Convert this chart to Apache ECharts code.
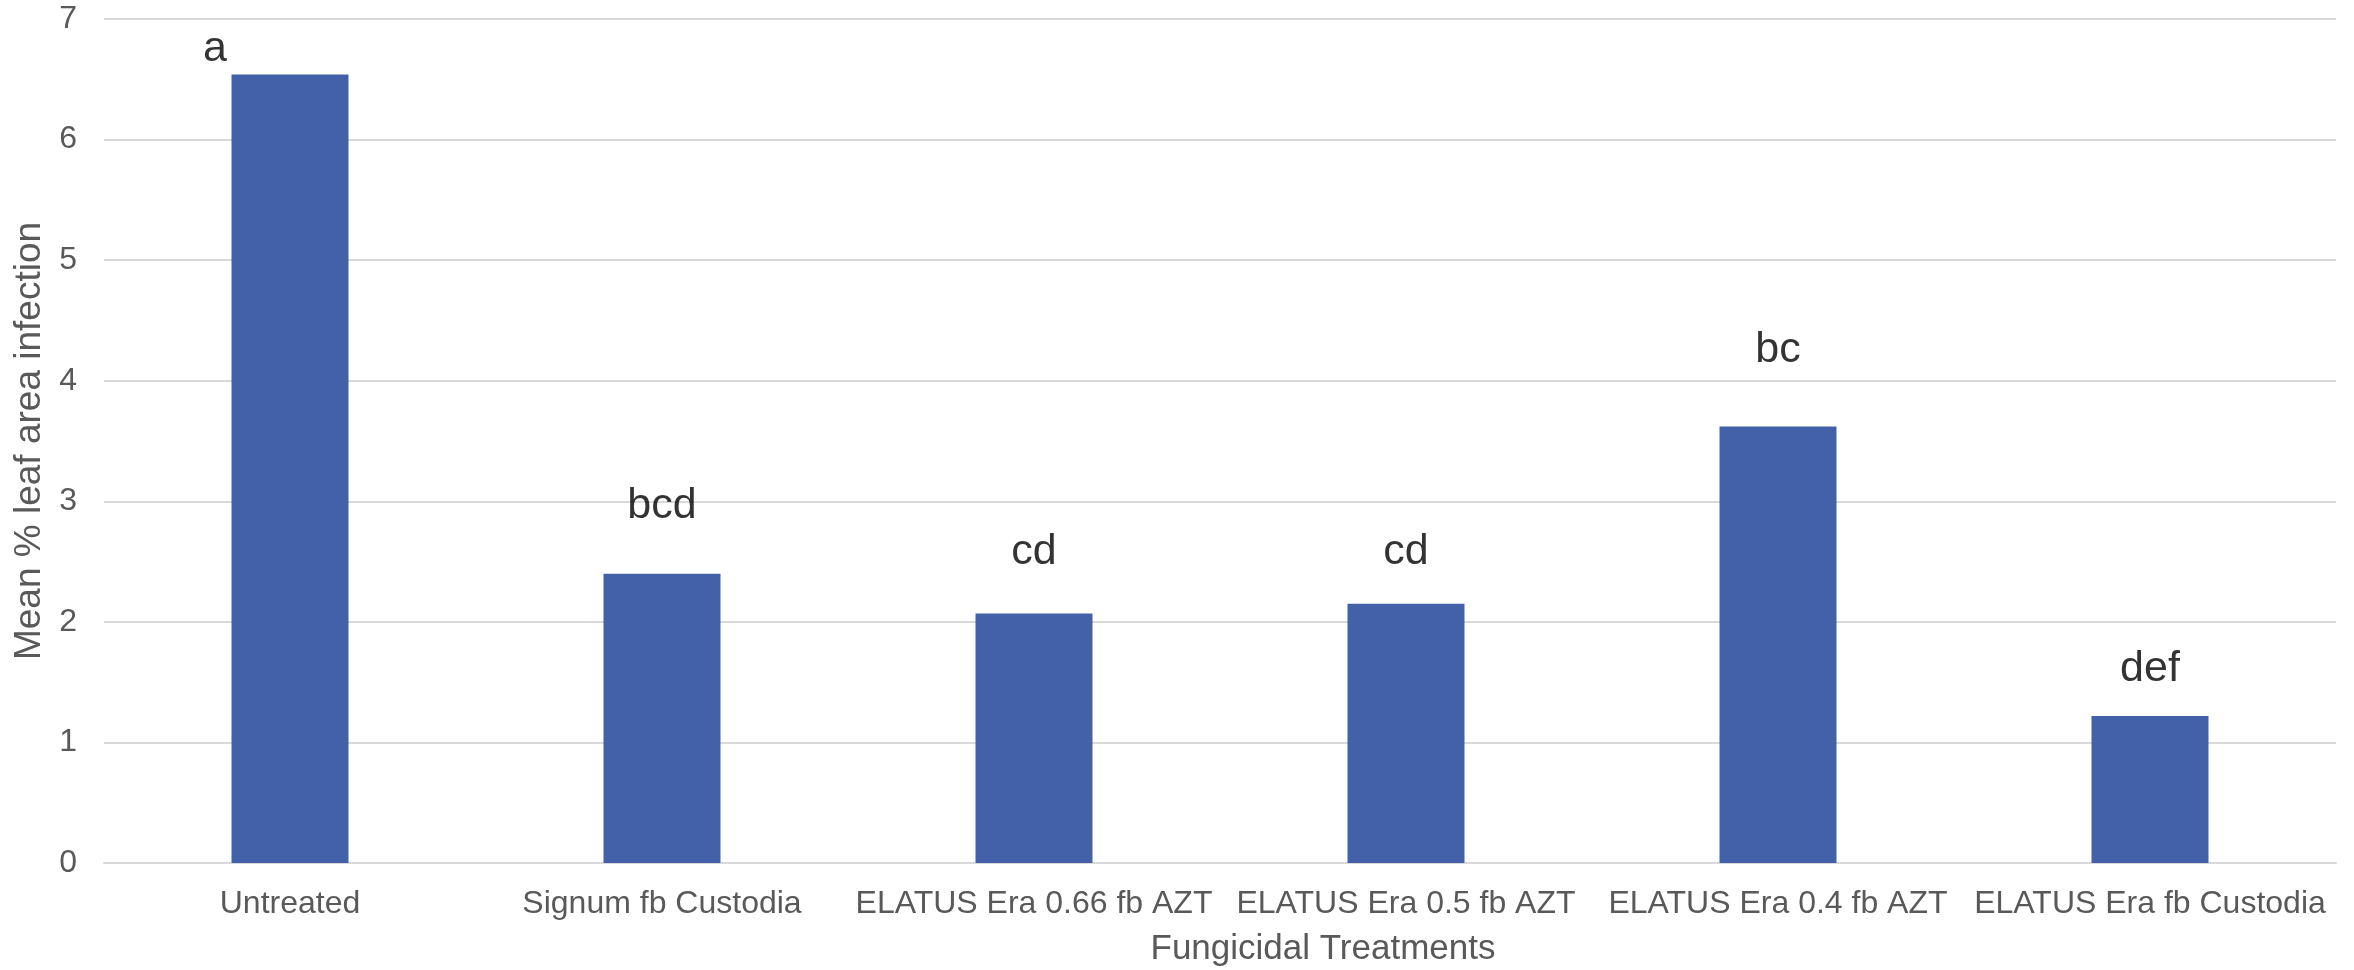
<!DOCTYPE html>
<html>
<head>
<meta charset="utf-8">
<script src="https://cdn.jsdelivr.net/npm/echarts@6/dist/echarts.min.js"></script>
<style>
html,body{margin:0;padding:0;background:#fff;}
#c{width:2354px;height:970px;}
</style>
</head>
<body>
<div id="c"></div>
<script>
const categories = ["Untreated", "Signum fb Custodia", "ELATUS Era 0.66 fb AZT", "ELATUS Era 0.5 fb AZT", "ELATUS Era 0.4 fb AZT", "ELATUS Era fb Custodia"];
const meanInfection = [6.54, 2.40, 2.07, 2.15, 3.62, 1.22];
const letters = ["a", "bcd", "cd", "cd", "bc", "def"];
const letterHeights = [6.75, 2.96, 2.58, 2.58, 4.25, 1.61];
const yTicks = [0, 1, 2, 3, 4, 5, 6, 7];

const FONT = "'Liberation Sans', Arial, sans-serif";
const chart = echarts.init(document.getElementById('c'), null, {renderer: 'canvas'});

const letterData = letterHeights.map((v, i) => ({
  value: [categories[i], v],
  name: letters[i],
  label: i === 0 ? {offset: [-75, 0]} : undefined
}));

chart.setOption({
  animation: false,
  backgroundColor: '#ffffff',
  grid: {left: 104, right: 18, top: 19, bottom: 107, containLabel: false},
  xAxis: {
    type: 'category',
    data: categories,
    axisLine: {show: true, lineStyle: {color: '#d9d9d9', width: 2}},
    axisTick: {show: false},
    axisLabel: {color: '#595959', fontSize: 32, fontFamily: FONT, margin: 25, interval: 0}
  },
  yAxis: {
    type: 'value',
    min: yTicks[0],
    max: yTicks[yTicks.length - 1],
    interval: 1,
    name: 'Mean % leaf area infection',
    nameLocation: 'middle',
    nameGap: 55,
    nameRotate: 90,
    nameTextStyle: {color: '#595959', fontSize: 37, fontFamily: FONT},
    axisLine: {show: false},
    axisTick: {show: false},
    axisLabel: {color: '#595959', fontSize: 32, fontFamily: FONT, margin: 27},
    splitLine: {show: true, lineStyle: {color: '#d9d9d9', width: 2}}
  },
  graphic: [{
    type: 'text',
    x: 1323,
    y: 949,
    style: {
      text: 'Fungicidal Treatments',
      fill: '#595959',
      font: "35px " + FONT,
      align: 'center',
      verticalAlign: 'middle'
    }
  }],
  series: [
    {
      type: 'bar',
      data: meanInfection,
      barWidth: 117,
      itemStyle: {color: '#4261A9'},
      z: 2
    },
    {
      type: 'scatter',
      data: letterData,
      symbolSize: 0,
      silent: true,
      z: 5,
      label: {
        show: true,
        position: 'inside',
        formatter: p => p.name,
        color: '#000000',
        fontSize: 43,
        fontFamily: FONT
      }
    }
  ]
});
</script>
</body>
</html>
